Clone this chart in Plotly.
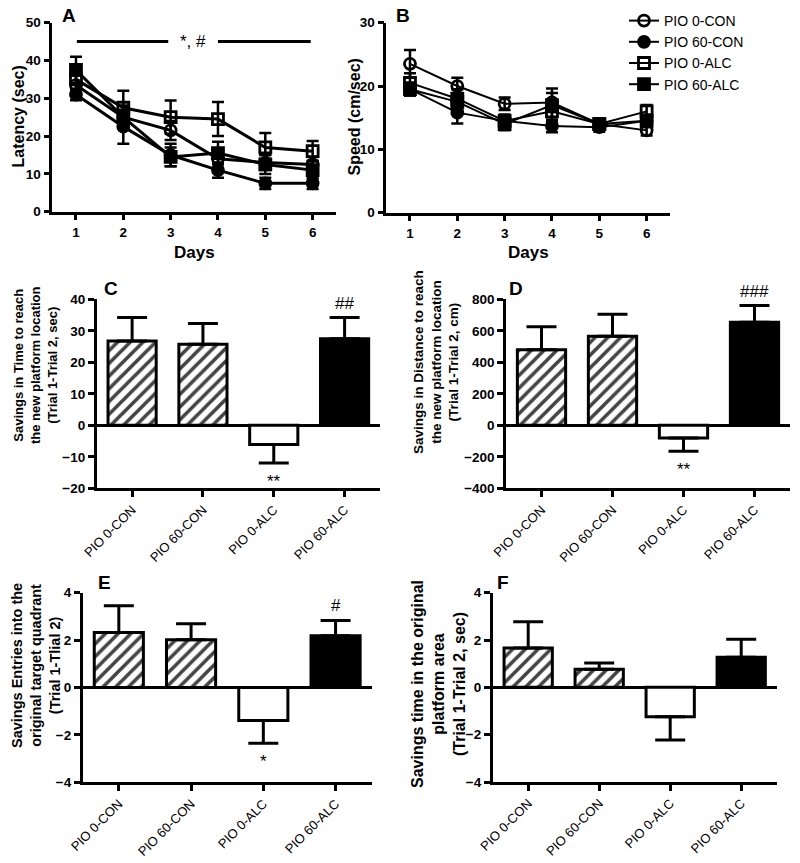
import plotly.graph_objects as go

# ---------------- data ----------------
days = [1, 2, 3, 4, 5, 6]
groups = ["PIO 0-CON", "PIO 60-CON", "PIO 0-ALC", "PIO 60-ALC"]

# Panel A: latency (sec)
lat_con0 = [33.5, 25.0, 21.5, 14.0, 13.0, 12.5]
lat_con0_err = [2.5, 3.0, 2.5, 2.5, 2.0, 2.0]
lat_con60 = [31.0, 22.5, 15.0, 11.0, 7.5, 7.5]
lat_con60_err = [1.5, 4.5, 3.0, 2.0, 1.5, 1.5]
lat_alc0 = [35.0, 27.5, 25.0, 24.5, 17.0, 16.0]
lat_alc0_err = [3.0, 4.5, 4.4, 4.5, 3.8, 2.7]
lat_alc60 = [37.5, 25.0, 14.5, 15.5, 12.5, 11.0]
lat_alc60_err = [3.5, 3.0, 2.5, 3.0, 2.5, 2.5]

# Panel B: speed (cm/sec)
spd_con0 = [23.5, 20.0, 17.2, 17.4, 14.0, 13.0]
spd_con0_err = [2.2, 1.3, 1.0, 1.5, 0.8, 0.8]
spd_con60 = [19.5, 15.8, 14.5, 13.7, 13.5, 14.5]
spd_con60_err = [1.0, 1.7, 0.8, 1.0, 0.7, 0.8]
spd_alc0 = [20.5, 18.0, 14.5, 16.0, 14.0, 16.0]
spd_alc0_err = [1.5, 1.5, 1.0, 1.5, 0.8, 1.0]
spd_alc60 = [19.5, 17.5, 14.0, 17.0, 14.0, 14.5]
spd_alc60_err = [1.0, 1.2, 1.0, 2.6, 0.8, 1.0]

# Panels C-F: bar values and SEM
time_save = [26.8, 25.7, -6.1, 27.5]
time_save_err = [7.4, 6.6, 5.9, 6.7]
dist_save = [480, 565, -80, 655]
dist_save_err = [145, 140, 85, 105]
entries_save = [2.32, 2.01, -1.39, 2.18]
entries_save_err = [1.13, 0.68, 0.96, 0.65]
area_save = [1.66, 0.76, -1.24, 1.27]
area_save_err = [1.11, 0.27, 0.98, 0.76]

sig_time = ["", "", "**", "##"]
sig_dist = ["", "", "**", "###"]
sig_entries = ["", "", "*", "#"]
sig_area = ["", "", "", ""]
sig_lat_text = "*, #"
sig_lat_span = [1, 6]
sig_lat_level = 45

# ---------------- styling ----------------
W, H = 800, 863
FONT = "Liberation Sans, Arial, sans-serif"
BLACK = "black"

def dx(a, b):
    return [a / W, b / W]

def dy(top, bottom):
    return [1 - bottom / H, 1 - top / H]

fig = go.Figure()

series_style = [
    ("PIO 0-CON", "circle-open"),
    ("PIO 60-CON", "circle"),
    ("PIO 0-ALC", "square-open"),
    ("PIO 60-ALC", "square"),
]
lat_sets = [(lat_con0, lat_con0_err), (lat_con60, lat_con60_err),
            (lat_alc0, lat_alc0_err), (lat_alc60, lat_alc60_err)]
spd_sets = [(spd_con0, spd_con0_err), (spd_con60, spd_con60_err),
            (spd_alc0, spd_alc0_err), (spd_alc60, spd_alc60_err)]

for (name, sym), (vals, err) in zip(series_style, lat_sets):
    fig.add_trace(go.Scatter(
        x=days, y=vals, name=name, mode="lines+markers", showlegend=False,
        xaxis="x", yaxis="y",
        line=dict(color=BLACK, width=3),
        marker=dict(symbol=sym, size=11, color=BLACK, line=dict(color=BLACK, width=2.8)),
        error_y=dict(type="data", array=err, visible=True, color=BLACK, thickness=2.5, width=6),
    ))

for (name, sym), (vals, err) in zip(series_style, spd_sets):
    fig.add_trace(go.Scatter(
        x=days, y=vals, name=name, mode="lines+markers", showlegend=True,
        xaxis="x2", yaxis="y2",
        line=dict(color=BLACK, width=2),
        marker=dict(symbol=sym, size=11, color=BLACK, line=dict(color=BLACK, width=2.8)),
        error_y=dict(type="data", array=err, visible=True, color=BLACK, thickness=2.5, width=6),
    ))

bar_colors = ["white", "white", "white", "black"]
bar_patterns = ["/", "/", "", ""]

bar_panels = [
    (time_save, time_save_err, sig_time, "x3", "y3"),
    (dist_save, dist_save_err, sig_dist, "x4", "y4"),
    (entries_save, entries_save_err, sig_entries, "x5", "y5"),
    (area_save, area_save_err, sig_area, "x6", "y6"),
]

annotations = []
for vals, err, sig, xa, ya in bar_panels:
    plus = [e if v >= 0 else 0 for v, e in zip(vals, err)]
    minus = [e if v < 0 else 0 for v, e in zip(vals, err)]
    fig.add_trace(go.Bar(
        x=groups, y=vals, xaxis=xa, yaxis=ya, showlegend=False, width=0.68,
        marker=dict(color=bar_colors, line=dict(color=BLACK, width=3),
                    pattern=dict(shape=bar_patterns, fgcolor=BLACK, fgopacity=1, size=9,
                                 solidity=0.4, fillmode="overlay")),
        error_y=dict(type="data", symmetric=False, array=plus, arrayminus=minus,
                     visible=True, color=BLACK, thickness=3, width=15),
    ))
    for g, v, e, s in zip(groups, vals, err, sig):
        if not s:
            continue
        if v >= 0:
            annotations.append(dict(x=g, y=v + e, xref=xa, yref=ya, text=s, showarrow=False,
                                    yanchor="bottom", yshift=3,
                                    font=dict(family=FONT, size=17, color=BLACK)))
        else:
            annotations.append(dict(x=g, y=v - e, xref=xa, yref=ya, text=s, showarrow=False,
                                    yanchor="top", yshift=-7,
                                    font=dict(family=FONT, size=17, color=BLACK)))

# significance bar on panel A
gap_left, gap_right = 2.95, 4.0
fig.add_shape(type="line", xref="x", yref="y", x0=sig_lat_span[0] + 0.02, x1=gap_left,
              y0=sig_lat_level, y1=sig_lat_level, line=dict(color=BLACK, width=3))
fig.add_shape(type="line", xref="x", yref="y", x0=gap_right, x1=sig_lat_span[1] - 0.04,
              y0=sig_lat_level, y1=sig_lat_level, line=dict(color=BLACK, width=3))
annotations.append(dict(x=(gap_left + gap_right) / 2, y=sig_lat_level, xref="x", yref="y",
                        text=sig_lat_text, showarrow=False,
                        font=dict(family=FONT, size=17, color=BLACK)))

# panel letters
for letter, px, py in [("A", 69, 15), ("B", 403, 15), ("C", 111, 288),
                       ("D", 516, 288), ("E", 104, 582), ("F", 503, 582)]:
    annotations.append(dict(x=px / W, y=1 - py / H, xref="paper", yref="paper", text=letter,
                            showarrow=False, xanchor="center", yanchor="middle",
                            font=dict(family=FONT, size=19, color=BLACK, weight="bold")))

# axis titles (as rotated text)
ytitles = [
    ("Latency (sec)", 17.5, 117, 16),
    ("Speed (cm/sec)", 353.5, 117, 16),
    ("Savings in Time to reach<br>the new platform location<br>(Trial 1-Trial 2, sec)", 35, 365, 13),
    ("Savings in Distance to reach<br>the new platform location<br>(Trial 1-Trial 2, cm)", 436, 362, 13.5),
    ("Savings Entries into the<br>original target quadrant<br>(Trial 1-Tlial 2)", 36, 666, 14.5),
    ("Savings time in the original<br>platform area<br>(Trial 1-Trial 2, sec)", 438, 684, 16),
]
for txt, px, py, fs in ytitles:
    annotations.append(dict(x=px / W, y=1 - py / H, xref="paper", yref="paper", text=txt,
                            textangle=-90, showarrow=False, xanchor="center", yanchor="middle",
                            font=dict(family=FONT, size=fs, color=BLACK, weight="bold")))
for px, py in [(194, 252), (528, 252)]:
    annotations.append(dict(x=px / W, y=1 - py / H, xref="paper", yref="paper", text="Days",
                            showarrow=False, xanchor="center", yanchor="middle",
                            font=dict(family=FONT, size=17, color=BLACK, weight="bold")))

num_tick_font = dict(family=FONT, size=13.5, color=BLACK, weight="bold")
cat_tick_font = dict(family=FONT, size=13, color=BLACK)

def line_x(domain, anchor):
    return dict(domain=domain, anchor=anchor, range=[0.5, 6.5], tickvals=days,
                ticks="outside", ticklen=6, tickwidth=2.5, tickcolor=BLACK,
                showline=True, linewidth=2.5, linecolor=BLACK, showgrid=False,
                zeroline=False, tickfont=num_tick_font, fixedrange=True, automargin=False)

def num_y(domain, anchor, rng, dtick, zero):
    return dict(domain=domain, anchor=anchor, range=rng, dtick=dtick, tick0=0,
                ticks="outside", ticklen=6, tickwidth=2.5, tickcolor=BLACK,
                showline=True, linewidth=2.5, linecolor=BLACK, showgrid=False,
                zeroline=zero, zerolinecolor=BLACK, zerolinewidth=2.5,
                tickfont=num_tick_font, fixedrange=True, automargin=False)

def cat_x(domain, anchor):
    return dict(domain=domain, anchor=anchor, type="category", range=[-0.5, 3.5],
                ticks="outside", ticklen=6, tickwidth=2.5, tickcolor=BLACK,
                showline=True, linewidth=2.5, linecolor=BLACK, showgrid=False,
                tickangle=-45, tickfont=cat_tick_font, fixedrange=True, automargin=False)

fig.update_layout(
    template="none",
    width=W, height=H,
    margin=dict(l=0, r=0, t=0, b=0, pad=0, autoexpand=False),
    paper_bgcolor="white", plot_bgcolor="white",
    font=dict(family=FONT, color=BLACK),
    bargap=0.3,
    xaxis=line_x(dx(52.3, 336.3), "y"),
    yaxis=num_y(dy(22.7, 211.7), "x", [0, 50], 10, False),
    xaxis2=line_x(dx(386.3, 670.3), "y2"),
    yaxis2=num_y(dy(22.7, 212.7), "x2", [0, 30], 10, False),
    xaxis3=cat_x(dx(96.7, 380), "y3"),
    yaxis3=num_y(dy(299.3, 488.3), "x3", [-20, 40], 10, True),
    xaxis4=cat_x(dx(506, 790), "y4"),
    yaxis4=num_y(dy(299.3, 488.3), "x4", [-400, 800], 200, True),
    xaxis5=cat_x(dx(82.7, 371.7), "y5"),
    yaxis5=num_y(dy(592.7, 782.3), "x5", [-4, 4], 2, True),
    xaxis6=cat_x(dx(492.7, 776.7), "y6"),
    yaxis6=num_y(dy(592.7, 782), "x6", [-4, 4], 2, True),
    legend=dict(x=624 / W, y=1 - 5 / H, xanchor="left", yanchor="top",
                font=dict(family=FONT, size=14, color=BLACK),
                bgcolor="rgba(0,0,0,0)", tracegroupgap=0),
    annotations=annotations,
)

fig.write_html("out.html", config={"displayModeBar": False},
               post_script="document.body.style.margin='0';")
